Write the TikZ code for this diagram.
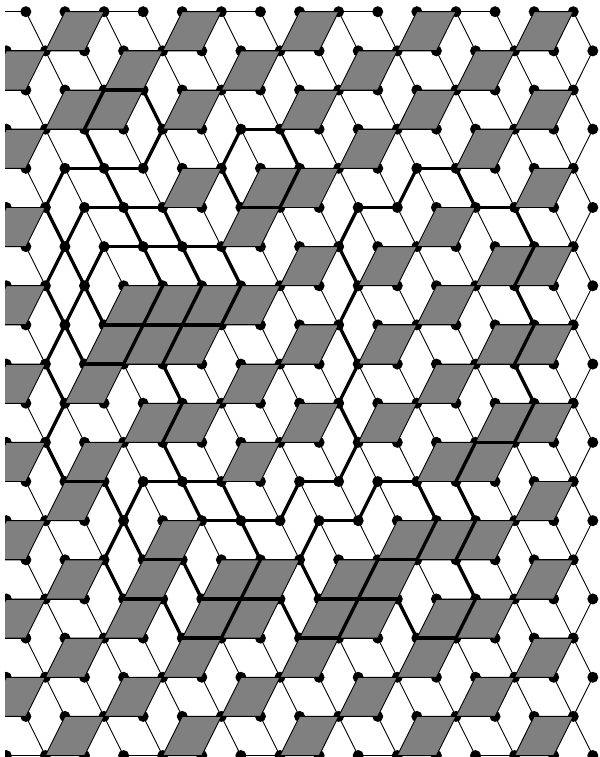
\documentclass[tikz,border=0pt]{standalone}
\usepackage{tikz}
\tikzset{
  dotn/.style={circle, fill=black, inner sep=0pt, minimum size=11bp},
  lz/.style={fill=black!50, draw=black, line width=0.9bp, line join=round},
  ln/.style={draw=black, line width=0.9bp},
  lnb/.style={draw=black, line width=3.3bp, line cap=round},
}

\begin{document}
\begin{tikzpicture}[x=1bp,y=-1bp]
\useasboundingbox (0,0) rectangle (600,757);
\clip (5,0) rectangle (600,757);

% ===================== lattice points =====================
\foreach \k in {0,2,...,18}
  \foreach \h in {-1,1,...,29}
    \node[dotn] (n\h-\k) at (6.3+19.55*\h,11.7+39.15*\k) {};
\foreach \k in {1,3,...,19}
  \foreach \h in {0,2,...,30}
    \node[dotn] (n\h-\k) at (6.3+19.55*\h,11.7+39.15*\k) {};

% ===================== grey lozenges =====================
\foreach \k/\hs in {0/{3,9,15,21,27},1/{0,6,12,18,24},2/{3,5,9,15,21,27},3/{0,18,24},
    4/{9,13,15,27},5/{0,12,22},6/{15,19,25,27},7/{0,6,8,10,12,22},
    8/{5,7,9,15,19,25,27},9/{0,4,12,22},10/{7,9,15,19,25,27},11/{0,4,12,22,24},
    12/{3,27},13/{0,8,20,22,24},14/{3,7,11,13,17,19,27},15/{0,6,10,12,16,18,22,24},
    16/{3,9,15,21,27},17/{0,6,12,18,24},18/{3,9,15,21,27}}
  \foreach \h in \hs {
    \pgfmathtruncatemacro{\kn}{\k+1}
    \pgfmathtruncatemacro{\ha}{\h+2}
    \pgfmathtruncatemacro{\hb}{\h+1}
    \pgfmathtruncatemacro{\hc}{\h-1}
    \draw[lz] (n\h-\k.center) -- (n\ha-\k.center) -- (n\hb-\kn.center) -- (n\hc-\kn.center) -- cycle;
  }

% ===================== thin edges =====================
% along the rows
\foreach \k/\hs in {0/{-1,3,5,9,11,15,17,21,23,27},1/{0,2,6,8,12,14,18,20,24,26},
    2/{-1,3,5,9,11,15,17,21,23,27},3/{0,2,4,8,12,14,18,20,24,26},
    4/{-1,3,5,9,13,15,17,21,23,27},5/{0,4,6,8,12,14,18,22,24,26},
    6/{-1,5,7,9,11,15,19,21,25,27},7/{0,6,8,10,12,14,18,22,24,26},
    8/{-1,5,7,9,11,15,19,21,25,27},9/{0,4,6,8,12,14,18,22,24,26},
    10/{-1,3,7,9,11,15,19,21,25,27},11/{0,4,6,8,12,14,18,22,24,26},
    12/{-1,3,7,9,11,15,19,21,23,27},13/{0,2,8,10,12,16,20,22,24,26},
    14/{-1,3,7,11,13,17,19,21,23,27},15/{0,2,6,10,12,16,18,22,24,26},
    16/{-1,3,5,9,11,15,17,21,23,27},17/{0,2,6,8,12,14,18,20,24,26},
    18/{-1,3,5,9,11,15,17,21,23,27},19/{0,2,6,8,12,14,18,20,24,26}}
  \foreach \h in \hs {
    \pgfmathtruncatemacro{\ha}{\h+2}
    \draw[ln] (n\h-\k.center) -- (n\ha-\k.center);
  }

% falling to the right
\foreach \k/\hs in {0/{1,5,7,11,13,17,19,23,25,29},1/{2,4,8,10,14,16,20,22,26,28},
    2/{1,7,11,13,17,19,23,25,29},3/{2,4,6,8,10,12,14,16,20,22,26,28},
    4/{1,3,5,7,11,17,19,21,23,25,29},5/{2,4,6,8,10,14,16,18,20,24,26,28},
    6/{1,3,5,7,9,11,13,17,21,23,29},7/{2,4,14,16,18,20,24,26,28},
    8/{1,3,11,13,17,21,23,29},9/{2,6,8,10,14,16,18,20,24,26,28},
    10/{1,3,5,11,13,17,21,23,29},11/{2,6,8,10,14,16,18,20,26,28},
    12/{1,5,7,9,11,13,15,17,19,21,23,25,29},13/{2,4,6,10,12,14,16,18,26,28},
    14/{1,5,9,15,21,23,25,29},15/{2,4,8,14,20,26,28},
    16/{1,5,7,11,13,17,19,23,25,29},17/{2,4,8,10,14,16,20,22,26,28},
    18/{1,5,7,11,13,17,19,23,25,29}}
  \foreach \h in \hs {
    \pgfmathtruncatemacro{\kn}{\k+1}
    \pgfmathtruncatemacro{\hb}{\h+1}
    \draw[ln] (n\h-\k.center) -- (n\hb-\kn.center);
  }

% right rim
\foreach \k in {1,3,...,17} {
  \pgfmathtruncatemacro{\kn}{\k+1}
  \draw[ln] (n30-\k.center) -- (n29-\kn.center);
}

% ===================== thick contours =====================
% along the rows
\foreach \k/\hs in {2/{5},3/{12},4/{3,5,21},5/{4,6,12,18,24},6/{5,7,9},8/{5,7,9},9/{4},
    11/{24},12/{3,7,9,15,19},13/{10,12,16},14/{7,19},15/{6,10,12,16,18},16/{9,15,21}}
  \foreach \h in \hs {
    \pgfmathtruncatemacro{\ha}{\h+2}
    \draw[lnb] (n\h-\k.center) -- (n\ha-\k.center);
  }

% falling to the right
\foreach \k/\hs in {2/{7},3/{4,14},4/{5,11,23},5/{2,6,8,26},6/{3,7,9,11,17},7/{2,4,26},
    8/{3,17},9/{2,8,26},10/{17},11/{2,8},12/{5,9,11,21,23},13/{6,12},14/{5,9,15,23},
    15/{8,14,20}}
  \foreach \h in \hs {
    \pgfmathtruncatemacro{\kn}{\k+1}
    \pgfmathtruncatemacro{\hb}{\h+1}
    \draw[lnb] (n\h-\k.center) -- (n\hb-\kn.center);
  }

% falling to the left
\foreach \k/\hs in {2/{5},3/{8,12},4/{3,15,21},5/{4,18},6/{3,5,27},7/{4,8,10,12,18},
    8/{3,7,9,27},9/{18},10/{3,9,27},11/{18,24},12/{7,15,19},13/{6,16,22,24},14/{13,19},
    15/{12,18,24}}
  \foreach \h in \hs {
    \pgfmathtruncatemacro{\kn}{\k+1}
    \pgfmathtruncatemacro{\hc}{\h-1}
    \draw[lnb] (n\h-\k.center) -- (n\hc-\kn.center);
  }

\end{tikzpicture}
\end{document}
